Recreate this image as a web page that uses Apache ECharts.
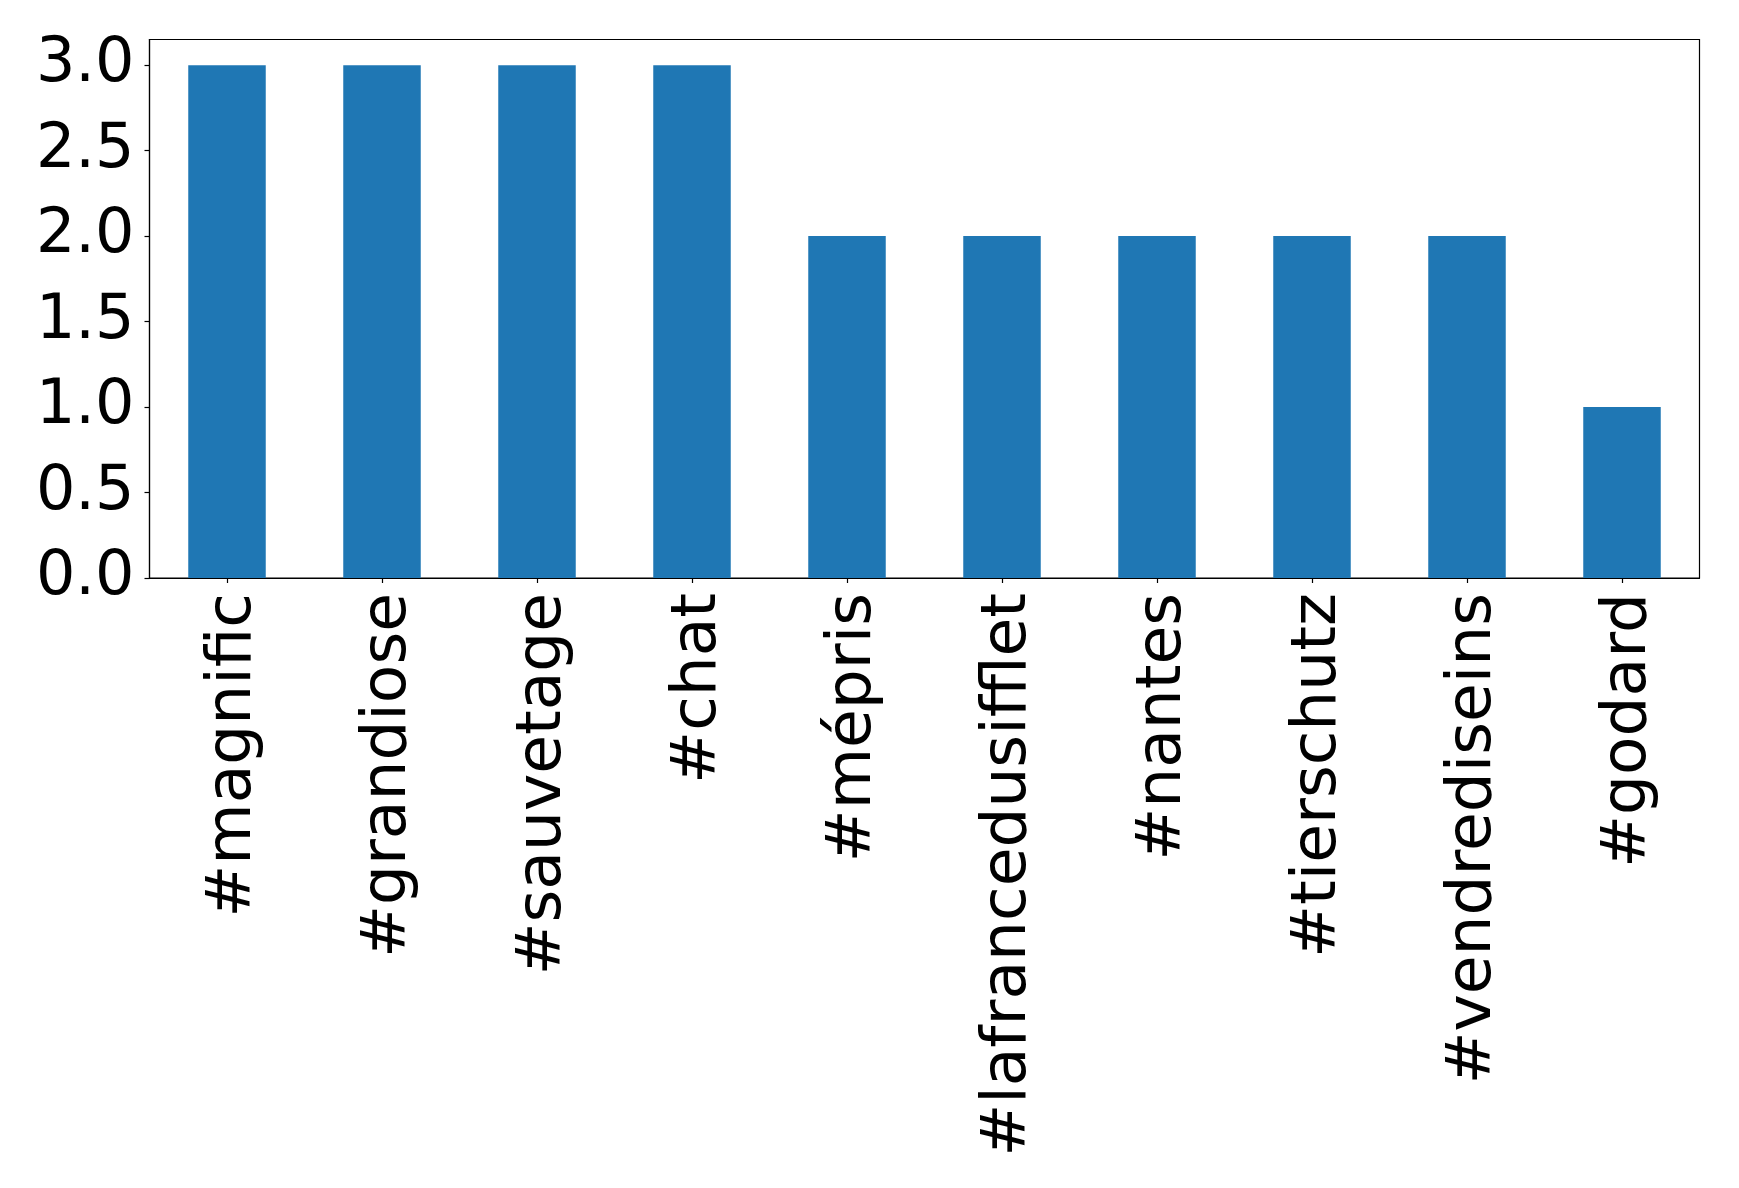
<!DOCTYPE html>
<html>
<head>
<meta charset="utf-8">
<script src="https://cdn.jsdelivr.net/npm/echarts@6/dist/echarts.min.js"></script>
<style>html,body{margin:0;padding:0;background:#fff;}#chart{width:1739px;height:1188px;}</style>
</head>
<body>
<div id="chart"></div>
<script>
const categories = ['#magnific', '#grandiose', '#sauvetage', '#chat', '#mépris', '#lafrancedusifflet', '#nantes', '#tierschutz', '#vendrediseins', '#godard'];
const values = [3, 3, 3, 3, 2, 2, 2, 2, 2, 1];
const yTicks = [0, 0.5, 1.0, 1.5, 2.0, 2.5, 3.0];
const yMax = 3.15;

const chart = echarts.init(document.getElementById('chart'), null, {renderer: 'canvas'});
chart.setOption({
  animation: false,
  backgroundColor: '#ffffff',
  textStyle: {fontFamily: 'DejaVu Sans'},
  grid: {left: 149.5, top: 39.5, width: 1550, height: 538.5, show: true, borderColor: '#000', borderWidth: 1.2, backgroundColor: 'transparent'},
  xAxis: {
    type: 'category',
    data: categories,
    boundaryGap: true,
    axisLine: {show: true, lineStyle: {color: '#000', width: 1.2}},
    axisTick: {show: true, alignWithLabel: true, length: 5, lineStyle: {color: '#000', width: 1.2}},
    axisLabel: {rotate: 90, fontSize: 63, color: '#000', margin: 15, fontFamily: 'DejaVu Sans', interval: 0,
      verticalAlign: 'top', lineHeight: 14}
  },
  yAxis: {
    type: 'value',
    min: 0, max: yMax,
    splitLine: {show: false},
    axisLine: {show: true, lineStyle: {color: '#000', width: 1.2}},
    axisTick: {show: true, length: 5, lineStyle: {color: '#000', width: 1.2}, customValues: yTicks},
    axisLabel: {fontSize: 62, color: '#000', margin: 15, fontFamily: 'DejaVu Sans', customValues: yTicks,
      formatter: v => v.toFixed(1)}
  },
  series: [{
    type: 'bar',
    data: values,
    barWidth: '50%',
    itemStyle: {color: '#1f77b4'}
  }]
});
</script>
</body>
</html>
